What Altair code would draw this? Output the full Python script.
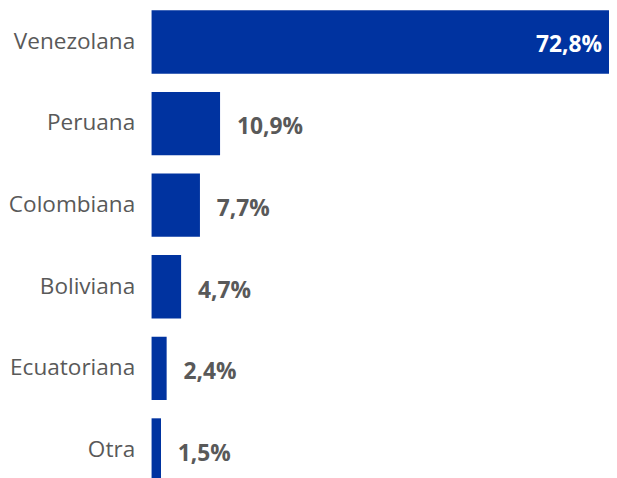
import altair as alt
import pandas as pd

categories = ["Venezolana", "Peruana", "Colombiana", "Boliviana", "Ecuatoriana", "Otra"]
values = [72.8, 10.9, 7.7, 4.7, 2.4, 1.5]
labels = ["72,8%", "10,9%", "7,7%", "4,7%", "2,4%", "1,5%"]

df = pd.DataFrame({"cat": categories, "val": values, "lab": labels})
df["inside"] = df["val"] > 50

FONT = "Open Sans"
BLUE = "#0033A0"
GRAY = "#595959"

y = alt.Y("cat:N", sort=categories, title=None,
          scale=alt.Scale(range=[-2, 478], round=False, paddingInner=0.224, paddingOuter=0.024),
          axis=alt.Axis(domain=False, ticks=False, labelFont=FONT, labelFontSize=22.8,
                        labelColor=GRAY, labelPadding=17, labelLimit=200))
x = alt.X("val:Q", title=None, scale=alt.Scale(domain=[0, 72.8], nice=False, zero=True),
          axis=None)

bars = alt.Chart(df).mark_bar(color=BLUE).encode(x=x, y=y)

out_labels = alt.Chart(df).transform_filter("!datum.inside").mark_text(
    align="left", baseline="middle", dx=17, dy=4, font=FONT, fontSize=23,
    fontWeight="bold", color=GRAY
).encode(x=x, y=y, text="lab:N")

in_labels = alt.Chart(df).transform_filter("datum.inside").mark_text(
    align="right", baseline="middle", dx=-7, dy=3, font=FONT, fontSize=23,
    fontWeight="bold", color="white"
).encode(x=x, y=y, text="lab:N")

chart = alt.layer(bars, out_labels, in_labels).properties(
    width=462, height=470,
    autosize=alt.AutoSizeParams(type="none"),
    padding={"left": 145, "top": 0, "right": 0, "bottom": 0},
).configure_view(stroke=None)

chart.save("out.html", embed_options={"renderer": "svg", "actions": False})
